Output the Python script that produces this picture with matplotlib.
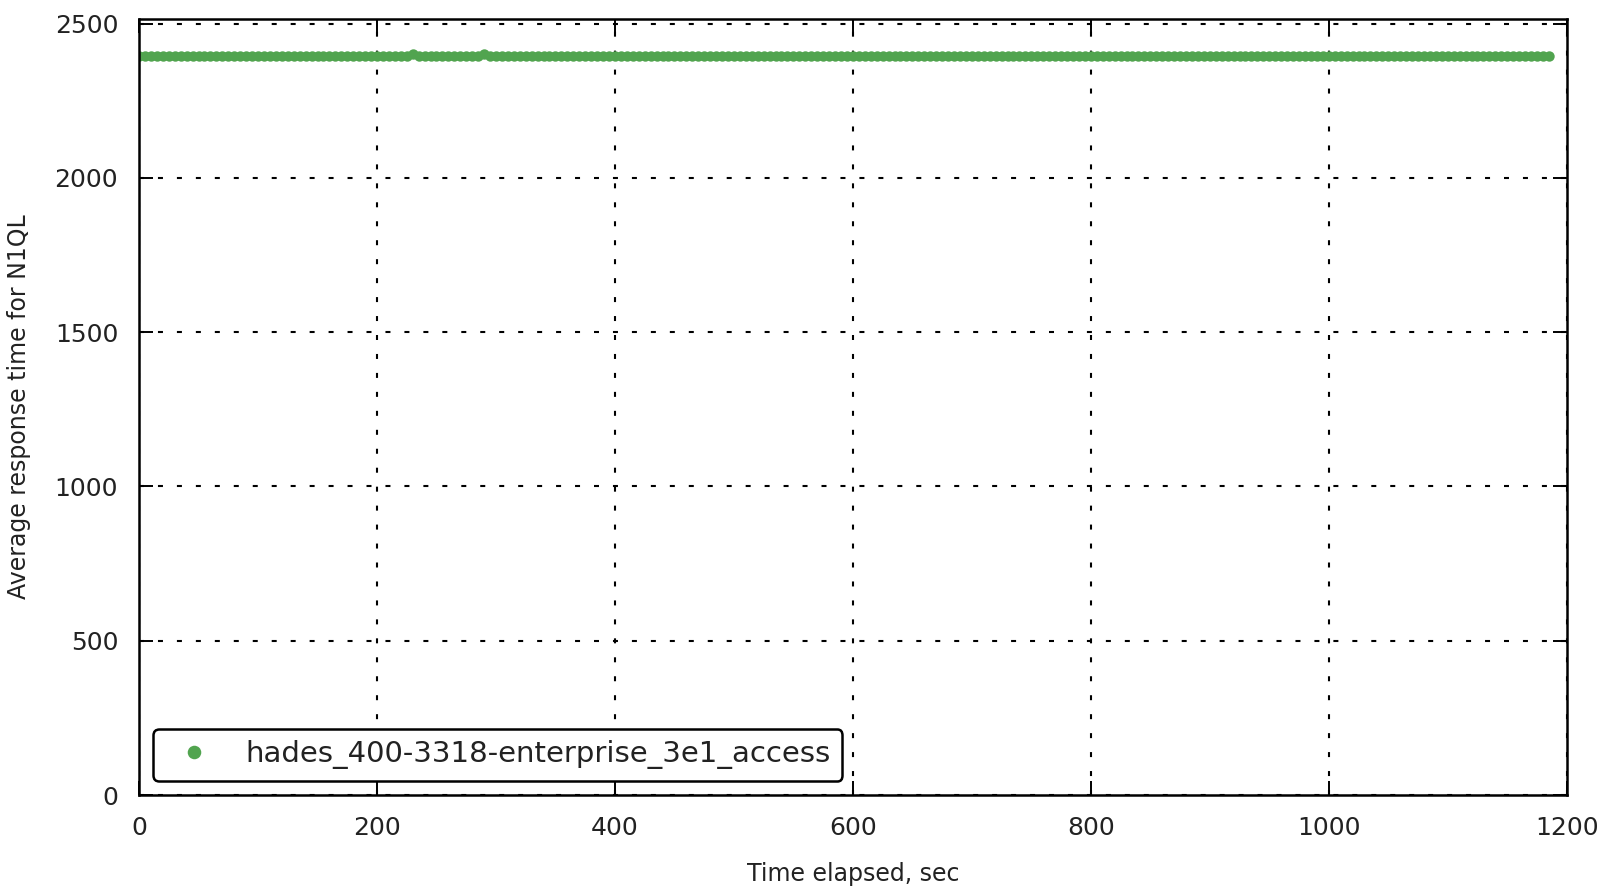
import matplotlib
matplotlib.use('Agg')
import matplotlib.pyplot as plt

# time samples (sec) and average N1QL response time
t = [0, 5, 10, 15, 20, 25, 30, 35, 40, 45, 50, 55, 60, 65, 70, 75, 80, 85, 90, 95,
     100, 105, 110, 115, 120, 125, 130, 135, 140, 145, 150, 155, 160, 165, 170, 175, 180, 185, 190, 195,
     200, 205, 210, 215, 220, 225, 230, 235, 240, 245, 250, 255, 260, 265, 270, 275, 280, 285, 290, 295,
     300, 305, 310, 315, 320, 325, 330, 335, 340, 345, 350, 355, 360, 365, 370, 375, 380, 385, 390, 395,
     400, 405, 410, 415, 420, 425, 430, 435, 440, 445, 450, 455, 460, 465, 470, 475, 480, 485, 490, 495,
     500, 505, 510, 515, 520, 525, 530, 535, 540, 545, 550, 555, 560, 565, 570, 575, 580, 585, 590, 595,
     600, 605, 610, 615, 620, 625, 630, 635, 640, 645, 650, 655, 660, 665, 670, 675, 680, 685, 690, 695,
     700, 705, 710, 715, 720, 725, 730, 735, 740, 745, 750, 755, 760, 765, 770, 775, 780, 785, 790, 795,
     800, 805, 810, 815, 820, 825, 830, 835, 840, 845, 850, 855, 860, 865, 870, 875, 880, 885, 890, 895,
     900, 905, 910, 915, 920, 925, 930, 935, 940, 945, 950, 955, 960, 965, 970, 975, 980, 985, 990, 995,
     1000, 1005, 1010, 1015, 1020, 1025, 1030, 1035, 1040, 1045, 1050, 1055, 1060, 1065, 1070, 1075, 1080, 1085, 1090, 1095,
     1100, 1105, 1110, 1115, 1120, 1125, 1130, 1135, 1140, 1145, 1150, 1155, 1160, 1165, 1170, 1175, 1180, 1185]

rt = [2395, 2395, 2396, 2395, 2395, 2396, 2395, 2395, 2395, 2396, 2395, 2395, 2395, 2396, 2395, 2395, 2395, 2395, 2396, 2395,
      2395, 2395, 2396, 2395, 2395, 2395, 2395, 2396, 2395, 2395, 2395, 2395, 2396, 2395, 2395, 2395, 2396, 2395, 2395, 2395,
      2396, 2395, 2395, 2395, 2396, 2396, 2400, 2396, 2395, 2395, 2395, 2396, 2395, 2395, 2396, 2395, 2395, 2396, 2400, 2396,
      2395, 2395, 2395, 2396, 2395, 2395, 2395, 2396, 2395, 2395, 2395, 2396, 2395, 2395, 2395, 2395, 2396, 2395, 2395, 2395,
      2395, 2396, 2395, 2395, 2395, 2396, 2395, 2395, 2395, 2395, 2396, 2395, 2395, 2395, 2396, 2395, 2395, 2395, 2395, 2396,
      2395, 2395, 2395, 2396, 2395, 2395, 2395, 2395, 2396, 2395, 2395, 2395, 2396, 2395, 2395, 2395, 2395, 2396, 2395, 2395,
      2395, 2396, 2395, 2395, 2395, 2395, 2396, 2395, 2395, 2395, 2396, 2395, 2395, 2395, 2395, 2396, 2395, 2395, 2395, 2396,
      2395, 2395, 2395, 2395, 2396, 2395, 2395, 2395, 2396, 2395, 2395, 2395, 2395, 2396, 2395, 2395, 2395, 2396, 2395, 2395,
      2395, 2395, 2396, 2395, 2395, 2395, 2396, 2395, 2395, 2395, 2395, 2396, 2395, 2395, 2395, 2396, 2395, 2395, 2395, 2395,
      2396, 2395, 2395, 2395, 2396, 2395, 2395, 2395, 2395, 2396, 2395, 2395, 2395, 2396, 2395, 2395, 2395, 2395, 2396, 2395,
      2395, 2395, 2396, 2395, 2395, 2395, 2395, 2396, 2395, 2395, 2395, 2396, 2395, 2395, 2395, 2395, 2396, 2395, 2395, 2395,
      2396, 2395, 2395, 2395, 2395, 2396, 2395, 2395, 2395, 2396, 2395, 2395, 2395, 2395, 2396, 2395, 2395, 2395]

label = 'hades_400-3318-enterprise_3e1_access'
txt = '#222222'

fig = plt.figure(figsize=(16, 8.88), dpi=100)
ax = fig.add_axes([0.0869, 0.1047, 0.8923, 0.8739])

ax.plot(t, rt, 'o', color='#51a44f', markersize=7.5, markeredgewidth=0, label=label)

ax.set_xlim(0, 1200)
ax.set_ylim(0, 2515)
ax.set_xticks([0, 200, 400, 600, 800, 1000, 1200])
ax.set_yticks([0, 500, 1000, 1500, 2000, 2500])
ax.grid(True, color='black', linestyle=(0, (2.4, 6.7)), linewidth=1.5)
ax.tick_params(direction='in', length=10, width=1.4, top=True, right=True,
               labelsize=18, pad=15, labelcolor=txt)
for s in ax.spines.values():
    s.set_linewidth(1.8)

ax.set_xlabel('Time elapsed, sec', fontsize=17, labelpad=16, color=txt)
ax.set_ylabel('Average response time for N1QL', fontsize=17, labelpad=17, color=txt)

leg = ax.legend(loc='lower left', numpoints=1, fontsize=21, fancybox=True, framealpha=1,
                borderpad=0.4, handletextpad=0.77, markerscale=1.3,
                bbox_to_anchor=(0.0098, 0.018), borderaxespad=0)
leg.get_frame().set_edgecolor('black')
leg.get_frame().set_linewidth(1.8)
for tx in leg.get_texts():
    tx.set_color(txt)

fig.savefig('out.png', dpi=100)
